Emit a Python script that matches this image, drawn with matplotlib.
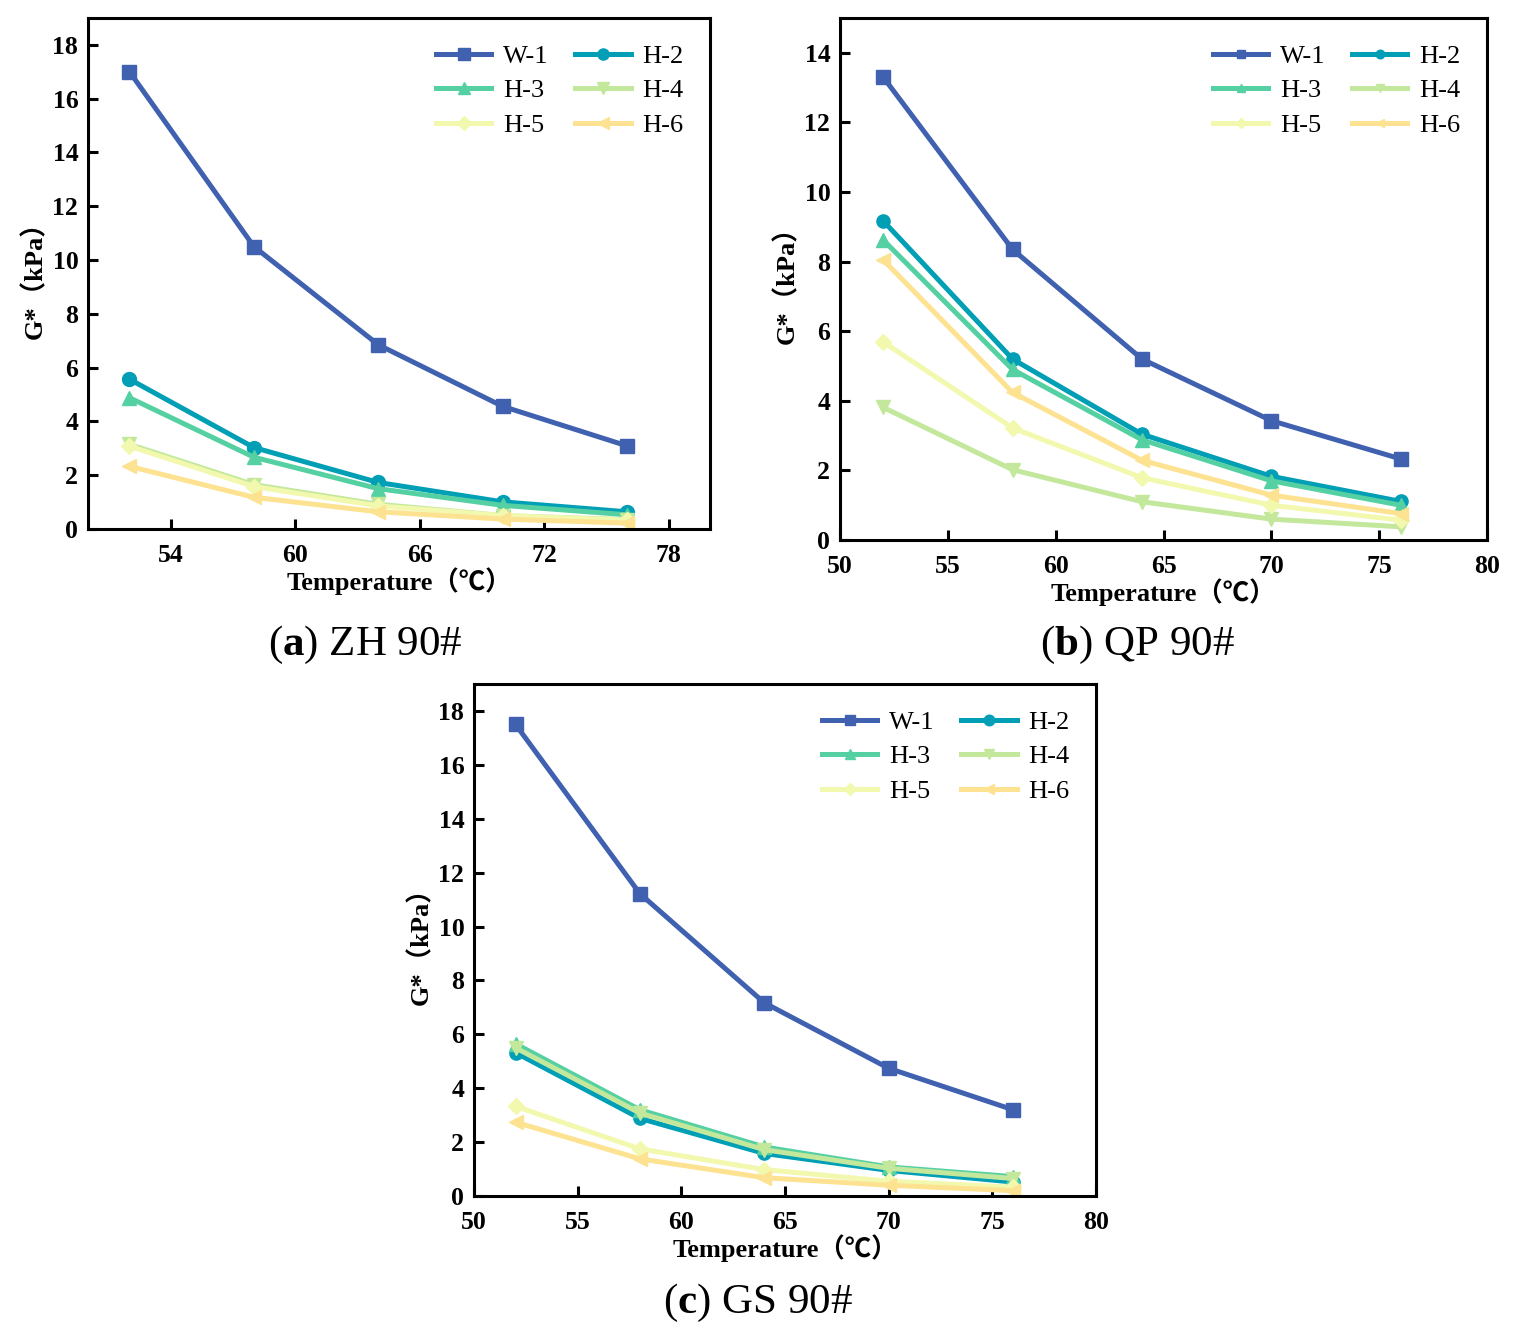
import matplotlib
matplotlib.use("Agg")
import matplotlib.pyplot as plt

# Data
temps = [52, 58, 64, 70, 76]
series = ["W-1", "H-2", "H-3", "H-4", "H-5", "H-6"]

zh_w1 = [17.0, 10.5, 6.85, 4.56, 3.09]
zh_h2 = [5.57, 3.03, 1.73, 1.01, 0.64]
zh_h3 = [4.88, 2.67, 1.5, 0.88, 0.53]
zh_h4 = [3.15, 1.65, 0.92, 0.5, 0.35]
zh_h5 = [3.08, 1.58, 0.86, 0.5, 0.33]
zh_h6 = [2.33, 1.18, 0.64, 0.37, 0.22]

qp_w1 = [13.3, 8.35, 5.2, 3.43, 2.33]
qp_h2 = [9.17, 5.2, 3.04, 1.83, 1.11]
qp_h3 = [8.62, 4.9, 2.88, 1.7, 1.0]
qp_h4 = [3.81, 2.02, 1.1, 0.6, 0.38]
qp_h5 = [5.69, 3.22, 1.79, 1.0, 0.57]
qp_h6 = [8.05, 4.24, 2.29, 1.29, 0.76]

gs_w1 = [17.5, 11.22, 7.17, 4.74, 3.2]
gs_h2 = [5.32, 2.88, 1.58, 0.95, 0.52]
gs_h3 = [5.65, 3.2, 1.82, 1.08, 0.72]
gs_h4 = [5.5, 3.08, 1.72, 1.03, 0.65]
gs_h5 = [3.33, 1.75, 0.98, 0.55, 0.33]
gs_h6 = [2.74, 1.38, 0.68, 0.4, 0.2]

colors = ["#4060b0", "#009fb5", "#55d0a2", "#c3e89c", "#f2f9af", "#fde291"]
markers = ["s", "o", "^", "v", "D", "<"]

plt.rcParams["font.family"] = ["Liberation Serif", "Noto Sans CJK SC"]
plt.rcParams["mathtext.fontset"] = "custom"
plt.rcParams["mathtext.rm"] = "Liberation Serif"
plt.rcParams["mathtext.bf"] = "Liberation Serif:bold"

fig = plt.figure(figsize=(15.15, 13.41), dpi=100)

panels = [
    ([0.0581, 0.6055, 0.4106, 0.3811], [zh_w1, zh_h2, zh_h3, zh_h4, zh_h5, zh_h6],
     (50, 80), [54, 60, 66, 72, 78], (0, 19), [0, 2, 4, 6, 8, 10, 12, 14, 16, 18], 10, 0.8),
    ([0.5545, 0.5973, 0.4270, 0.3893], [qp_w1, qp_h2, qp_h3, qp_h4, qp_h5, qp_h6],
     (50, 80), [50, 55, 60, 65, 70, 75, 80], (0, 15), [0, 2, 4, 6, 8, 10, 12, 14], 9.5, 0.65),
    ([0.3129, 0.1081, 0.4106, 0.3818], [gs_w1, gs_h2, gs_h3, gs_h4, gs_h5, gs_h6],
     (50, 80), [50, 55, 60, 65, 70, 75, 80], (0, 19), [0, 2, 4, 6, 8, 10, 12, 14, 16, 18], 9.5, 0.8),
]

# legend filled row by row: matplotlib fills columns, so reorder
leg_order = [0, 2, 4, 1, 3, 5]

for rect, data, xlim, xticks, ylim, yticks, ms, mscale in panels:
    ax = fig.add_axes(rect)
    lines = []
    for name, vals, c, m in zip(series, data, colors, markers):
        size = ms * 0.85 if m == "D" else ms
        ln, = ax.plot(temps, vals, color=c, marker=m, markersize=size, linewidth=3.6,
                      markeredgecolor=c, label=name)
        lines.append(ln)
    ax.set_xlim(xlim)
    ax.set_ylim(ylim)
    ax.set_xticks(xticks)
    ax.set_yticks(yticks)
    ax.tick_params(direction="in", length=7, width=2.2, labelsize=18.5, pad=7)
    ax.tick_params(axis="x", pad=11)
    for lab in ax.get_xticklabels() + ax.get_yticklabels():
        lab.set_fontweight("bold")
    for sp in ax.spines.values():
        sp.set_linewidth(2.2)
    ax.set_xlabel("Temperature（℃）", fontsize=19, fontweight="bold", labelpad=0)
    ax.set_ylabel("G*（kPa）", fontsize=19, fontweight="bold", labelpad=4)
    ax.legend([lines[i] for i in leg_order], [series[i] for i in leg_order],
              ncol=2, frameon=False, fontsize=19, loc="upper right",
              handlelength=2.1, handletextpad=0.45, columnspacing=1.0,
              labelspacing=0.42, markerscale=mscale, borderaxespad=0.6)

fig.text(0.241, 0.519, r"($\mathbf{a}$) ZH 90#", fontsize=31, ha="center", va="center")
fig.text(0.751, 0.519, r"($\mathbf{b}$) QP 90#", fontsize=31, ha="center", va="center")
fig.text(0.5, 0.028, r"($\mathbf{c}$) GS 90#", fontsize=31, ha="center", va="center")

fig.savefig("out.png", dpi=100)
